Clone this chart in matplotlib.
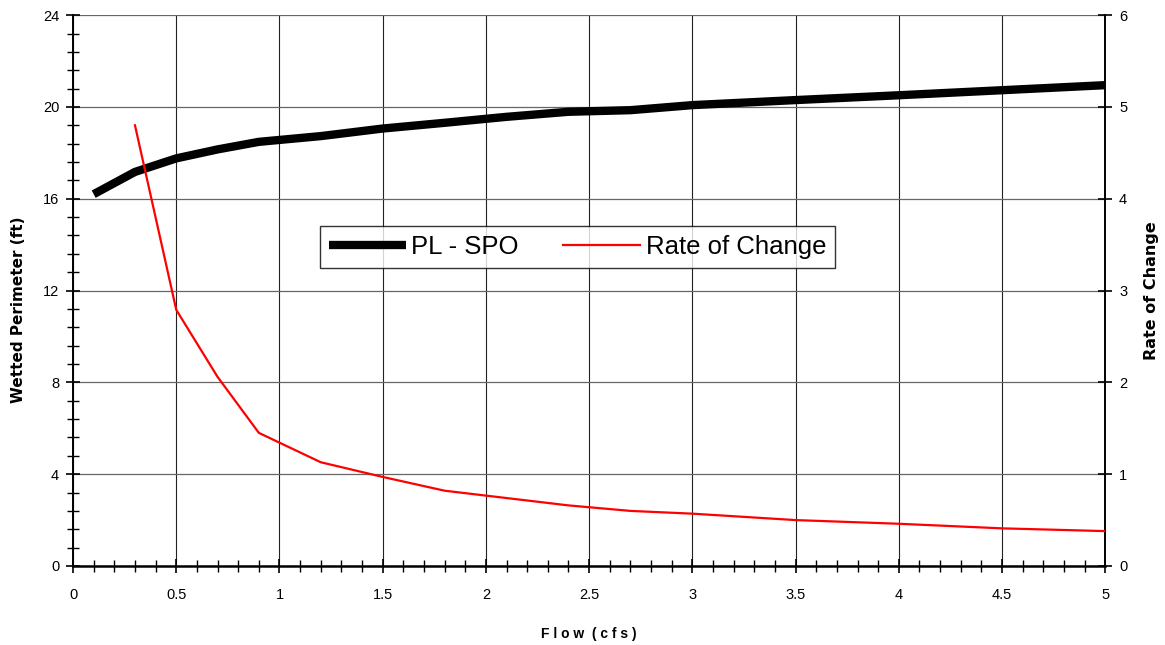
import matplotlib
matplotlib.use('Agg')
import numpy as np
import matplotlib.pyplot as plt
from matplotlib.ticker import MultipleLocator

# data
flow = [0.1, 0.3, 0.5, 0.7, 0.9, 1.2, 1.5, 1.8, 2.1, 2.4, 2.7, 3.0, 3.5, 4.0, 4.5, 5.0]
wetted_perimeter = [16.2, 17.17, 17.76, 18.15, 18.48, 18.73, 19.06, 19.31, 19.57,
                    19.79, 19.86, 20.08, 20.3, 20.51, 20.73, 20.95]
rate_flow = [0.3, 0.5, 0.7, 0.9, 1.2, 1.5, 1.8, 2.1, 2.4, 2.7, 3.0, 3.5, 4.0, 4.5, 5.0]
rate_of_change = [4.8, 2.79, 2.06, 1.45, 1.13, 0.97, 0.82, 0.74, 0.66, 0.6,
                  0.57, 0.5, 0.46, 0.41, 0.38]
xtick_labels = ['0', '0.5', '1', '1.5', '2', '2.5', '3', '3.5', '4', '4.5', '5']

plt.rcParams['font.family'] = ['Liberation Sans', 'DejaVu Sans']

fig = plt.figure(figsize=(11.65, 6.45), dpi=100)
ax = fig.add_axes([0.0627, 0.1225, 0.886, 0.854])
ax2 = ax.twinx()

l1, = ax.plot(flow, wetted_perimeter, color='black', linewidth=6,
              solid_capstyle='butt', label='PL - SPO', zorder=3)
l2, = ax2.plot(rate_flow, rate_of_change, color='#ff0000', linewidth=1.6,
               label='Rate of Change', zorder=3)

ax.set_xlim(0, 5)
ax.set_ylim(0, 24)
ax2.set_ylim(0, 6)

ax.set_xticks(np.arange(0, 5.01, 0.5))
ax.set_xticklabels(xtick_labels)
ax.xaxis.set_minor_locator(MultipleLocator(0.1))
ax.yaxis.set_major_locator(MultipleLocator(4))
ax.yaxis.set_minor_locator(MultipleLocator(0.8))
ax2.yaxis.set_major_locator(MultipleLocator(1))

ax.grid(True, which='major', axis='y', color='#666666', linewidth=0.9)
ax.grid(True, which='major', axis='x', color='#222222', linewidth=0.8)
ax.set_axisbelow(True)

ax.tick_params(axis='both', which='major', direction='inout', length=10,
               width=1.2, labelsize=10.5)
ax.tick_params(axis='x', which='major', pad=11)
ax.tick_params(axis='y', which='major', pad=5)
ax.tick_params(axis='both', which='minor', direction='inout', length=9, width=1)
ax2.tick_params(axis='y', which='major', direction='inout', length=10,
                width=1.2, labelsize=10.5, pad=5)

ax.spines['top'].set_visible(False)
ax2.spines['top'].set_visible(False)
ax2.spines['left'].set_visible(False)
ax2.spines['bottom'].set_visible(False)
ax.spines['right'].set_visible(False)
ax.spines['bottom'].set_linewidth(1.8)
ax.spines['left'].set_linewidth(1.4)
ax2.spines['right'].set_linewidth(1.4)

ax.set_xlabel('F l o w  ( c f s )', fontsize=10, fontweight='bold', labelpad=18)
ax.set_ylabel('Wetted Perimeter (ft)', fontsize=11, fontweight='heavy',
              family='DejaVu Sans')
ax.yaxis.set_label_coords(-0.046, 0.465)
ax2.set_ylabel('Rate of Change', fontsize=11.5, fontweight='heavy',
               family='DejaVu Sans', labelpad=12)

leg = ax.legend(handles=[l1, l2], loc='upper left',
                bbox_to_anchor=(0.2265, 0.64), ncol=2, fontsize=18.5,
                frameon=True, fancybox=False, edgecolor='black',
                handlelength=3.0, handletextpad=0.2, columnspacing=1.75,
                borderpad=0.35)
leg.get_frame().set_linewidth(1.0)
leg.set_zorder(5)

fig.savefig('out.png', dpi=100)
